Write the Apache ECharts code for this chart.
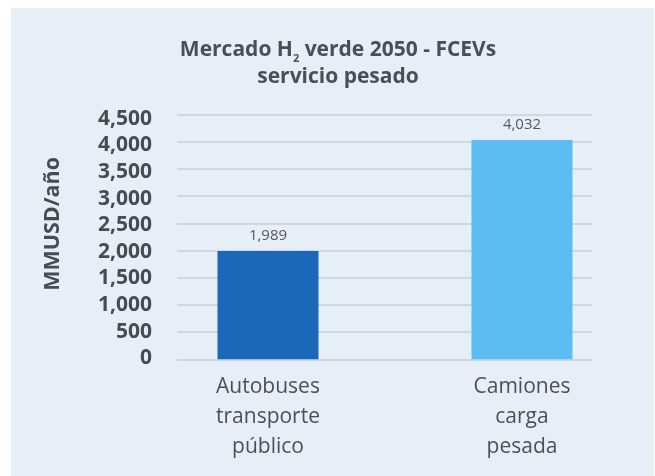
<!DOCTYPE html>
<html><head><meta charset="utf-8">
<script src="https://cdn.jsdelivr.net/npm/echarts@6/dist/echarts.min.js"></script>
<style>html,body{margin:0;padding:0;background:#fff}#c{width:655px;height:476px}</style>
</head><body><div id="c"></div>
<script>
const categories = ['Autobuses\ntransporte\npúblico', 'Camiones\ncarga\npesada'];
const values = [1989, 4032];
const barColors = ['#1c68b8', '#5bbdf1'];
const yTicks = [0, 500, 1000, 1500, 2000, 2500, 3000, 3500, 4000, 4500];

const chart = echarts.init(document.getElementById('c'));
const fmt = v => v.toLocaleString('en-US');
chart.setOption({
  animation: false,
  graphic: [{ type: 'rect', z: -10, shape: { x: 11, y: 8, width: 643, height: 468 }, style: { fill: '#e6eef7' } }],
  title: {
    text: '{t|Mercado H}{s|2}{t| verde 2050 - FCEVs}\n{t|servicio pesado}',
    left: 338, top: 37, textAlign: 'center', padding: 0,
    textStyle: {
      rich: {
        t: { fontFamily: 'Open Sans', fontWeight: 'bold', fontSize: 21, color: '#4a4f56', lineHeight: 27 },
        s: { fontFamily: 'Open Sans', fontWeight: 'bold', fontSize: 11, color: '#4a4f56', lineHeight: 2, verticalAlign: 'bottom' }
      }
    }
  },
  grid: [
    { left: 177, right: 63, top: 114.5, bottom: 116.7 },
    { left: 141, right: 6, top: 114.5, bottom: 116.7 },
    { left: 177, right: 63, top: 118.7, bottom: 117.7 }
  ],
  xAxis: [
    { gridIndex: 0, type: 'category', data: categories, show: false },
    { gridIndex: 1, type: 'category', data: categories,
      axisLine: { show: false }, axisTick: { show: false },
      axisLabel: { fontFamily: 'Open Sans', fontSize: 21, color: '#4a5058', lineHeight: 30, margin: 13 } },
    { gridIndex: 2, type: 'category', data: categories, show: false }
  ],
  yAxis: [
    { gridIndex: 0, type: 'value', min: 0, max: 4500, interval: 500,
      name: 'MMUSD/año', nameLocation: 'middle', nameGap: 113, nameRotate: 90,
      nameTextStyle: { fontFamily: 'Open Sans', fontWeight: 'bold', fontSize: 21.5, color: '#474c53', padding: [0, 0, 0, 26] },
      axisLine: { show: false }, axisTick: { show: false }, axisLabel: { show: false },
      splitLine: { lineStyle: { color: '#c9cfd7', width: 1.5 } } },
    { gridIndex: 1, type: 'value', min: 0, max: 4500, interval: 500, show: false, splitLine: { show: false } },
    { gridIndex: 2, type: 'value', min: 0, max: 4500, interval: 500,
      axisLine: { show: false }, axisTick: { show: false }, splitLine: { show: false },
      axisLabel: { fontFamily: 'Open Sans', fontWeight: 'bold', fontSize: 21, color: '#474c53', margin: 25,
        formatter: v => yTicks.includes(v) ? fmt(v) : '' } }
  ],
  series: [{
    type: 'bar', xAxisIndex: 1, yAxisIndex: 1, barWidth: 101,
    data: values.map((v, i) => ({ value: v, itemStyle: { color: barColors[i] } })),
    label: { show: true, position: 'top', distance: 8, fontFamily: 'Open Sans', fontSize: 15, color: '#555a60',
      formatter: p => fmt(p.value) }
  }]
});
</script></body></html>
